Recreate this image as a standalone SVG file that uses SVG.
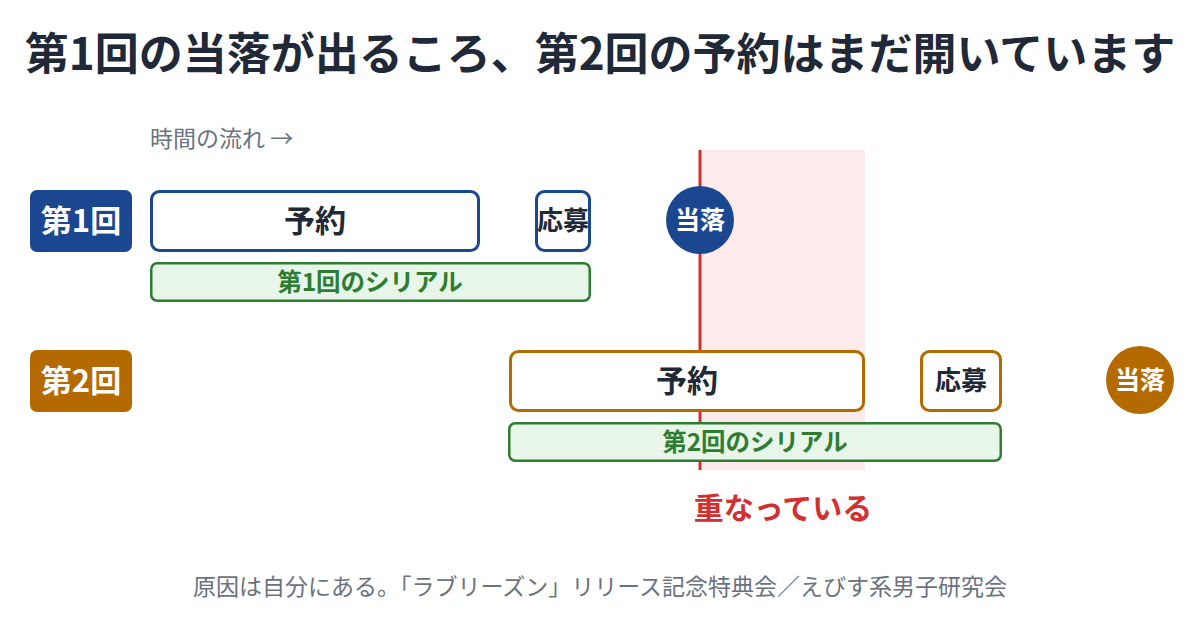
<svg xmlns="http://www.w3.org/2000/svg" width="1200" height="620" viewBox="0 0 1200 620">
<style>
text{font-family:"Noto Sans CJK JP","Noto Sans",sans-serif;}
.title{font-size:44px;font-weight:700;fill:#1f2937;}
.sub{font-size:23px;fill:#6b7280;}
.lbl{font-size:31px;font-weight:700;fill:#fff;}
.box{fill:#fff;stroke-width:3;}
.b1{stroke:#1a4790;}
.b2{stroke:#b56a00;}
.bt{font-size:31px;font-weight:700;fill:#1f2937;}
.bs{font-size:26px;font-weight:700;fill:#1f2937;}
.ct{font-size:25px;font-weight:700;fill:#fff;}
.ser{fill:#e8f5e9;stroke:#2e7d32;stroke-width:2.5;}
.st{font-size:24.5px;font-weight:700;fill:#2e7d32;}
.foot{font-size:23px;fill:#6b7280;}
</style>
<rect width="1200" height="620" fill="#fff"/>
<text class="title" x="600" y="70" text-anchor="middle">第1回の当落が出るころ、第2回の予約はまだ開いています</text>
<text class="sub" x="150" y="147">時間の流れ →</text>
<g id="overlap">
<rect x="701" y="150" width="164" height="320" fill="#fdeaea"/>
</g>
<g id="connectors">
<line x1="700" y1="150" x2="700" y2="470" stroke="#d32f2f" stroke-width="3"/>
</g>
<g id="row1-label">
<rect x="30" y="190" width="102" height="62" rx="7" fill="#1a4790"/>
<text class="lbl" x="81" y="232" text-anchor="middle">第1回</text>
</g>
<g id="row1-yoyaku">
<rect class="box b1" x="151.5" y="191.5" width="327" height="59" rx="8"/>
<text class="bt" x="315" y="232" text-anchor="middle">予約</text>
</g>
<g id="row1-oubo">
<rect class="box b1" x="536.5" y="191.5" width="53" height="59" rx="8"/>
<text class="bs" x="563" y="230" text-anchor="middle">応募</text>
</g>
<g id="row1-touraku">
<circle cx="700" cy="220" r="34" fill="#1a4790"/>
<text class="ct" x="700" y="229" text-anchor="middle">当落</text>
</g>
<g id="row1-serial">
<rect class="ser" x="151.25" y="263.25" width="438.5" height="37.5" rx="6"/>
<text class="st" x="370" y="291" text-anchor="middle">第1回のシリアル</text>
</g>
<g id="row2-label">
<rect x="30" y="350" width="102" height="62" rx="7" fill="#b56a00"/>
<text class="lbl" x="81" y="392" text-anchor="middle">第2回</text>
</g>
<g id="row2-yoyaku">
<rect class="box b2" x="510.5" y="351.5" width="353" height="59" rx="8"/>
<text class="bt" x="687" y="392" text-anchor="middle">予約</text>
</g>
<g id="row2-oubo">
<rect class="box b2" x="921.5" y="351.5" width="79" height="59" rx="8"/>
<text class="bs" x="961" y="390" text-anchor="middle">応募</text>
</g>
<g id="row2-touraku">
<circle cx="1140" cy="380" r="34" fill="#b56a00"/>
<text class="ct" x="1140" y="389" text-anchor="middle">当落</text>
</g>
<g id="row2-serial">
<rect class="ser" x="509.25" y="423.25" width="491.5" height="37.5" rx="6"/>
<text class="st" x="755" y="451" text-anchor="middle">第2回のシリアル</text>
</g>
<text x="783" y="519" text-anchor="middle" style="font-size:30px;font-weight:700;fill:#d32f2f">重なっている</text>
<text class="foot" x="600" y="595" text-anchor="middle">原因は自分にある。「ラブリーズン」リリース記念特典会／えびす系男子研究会</text>
</svg>
